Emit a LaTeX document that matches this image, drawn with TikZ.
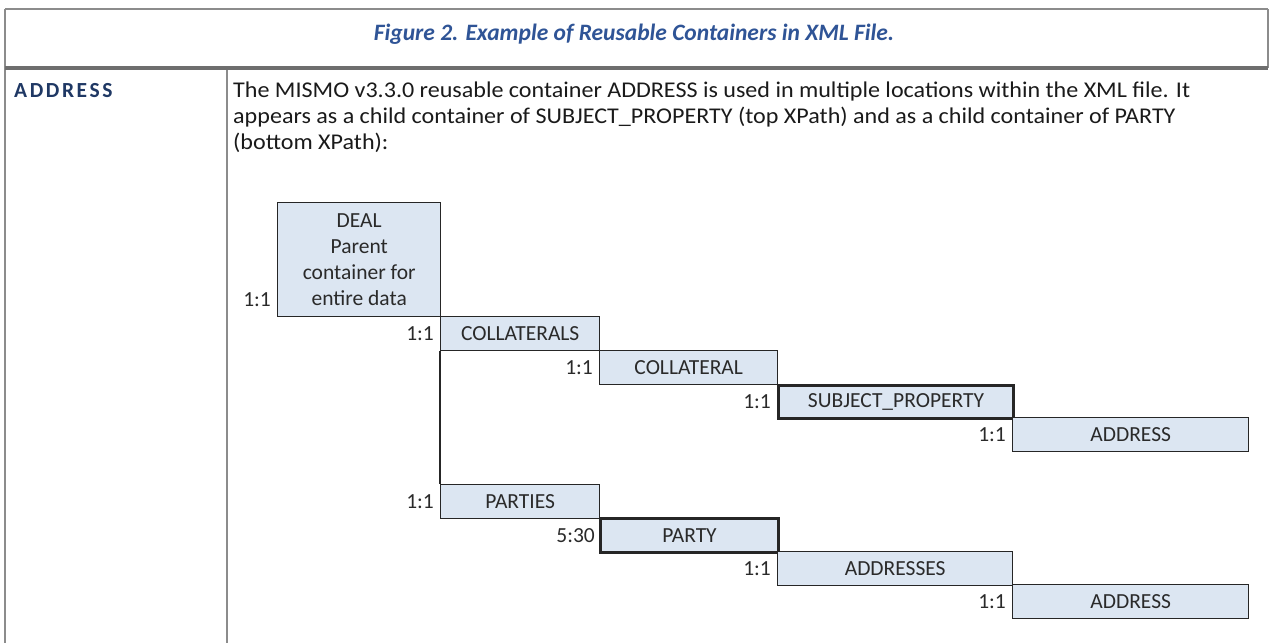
\documentclass[tikz,border=0pt]{standalone}
\usepackage{fontspec}
\setmainfont{Carlito}
\definecolor{rulegray}{HTML}{8C8C8C}
\definecolor{rowgray}{HTML}{6E6E6E}
\definecolor{titleblue}{HTML}{2F5496}
\definecolor{headblue}{HTML}{1F3864}
\definecolor{bodytext}{HTML}{1A1A1A}
\definecolor{boxfill}{HTML}{DCE6F2}
\definecolor{boxline}{HTML}{262626}
\definecolor{dtext}{HTML}{2A2A2A}
\tikzset{
  rulethin/.style={draw=rulegray, line width=2pt},
  rulethick/.style={draw=rowgray, line width=3.5pt},
  cbox/.style={draw=boxline, fill=boxfill, line width=1.4pt, inner sep=0pt,
    minimum height=33.5pt, anchor=north west, text=dtext,
    font=\fontsize{21.5}{26}\selectfont},
  heavy/.style={line width=3pt},
  lbl/.style={inner sep=0pt, text=dtext, font=\fontsize{21.5}{26}\selectfont},
  bodyline/.style={inner sep=0pt, anchor=base west, text=bodytext,
    font=\fontsize{22.5}{26.5}\selectfont\addfontfeature{FakeStretch=1.07}},
  conn/.style={draw=boxline, line width=1.4pt}
}
\begin{document}
\begin{tikzpicture}[x=1pt,y=-1pt]
\useasboundingbox (0,0) rectangle (1270,643);
% table frame
\coordinate (tl) at (5,9);
\coordinate (tr) at (1268,9);
\coordinate (ml) at (5,68);
\coordinate (mr) at (1268,68);
\coordinate (bl) at (5,643);
\coordinate (dt) at (227,69);
\coordinate (db) at (227,643);
\draw[rulethin] (tl) -- (tr);
\draw[rulethin] (tl) -- (bl);
\draw[rulethin] (tr) -- (mr);
\draw[rulethin] (dt) -- (db);
\draw[rulethick] (ml) -- (mr);
% title
\node[inner sep=0pt, anchor=base, text=titleblue, font=\fontsize{23.5}{28}\selectfont\bfseries\itshape] (title) at (634,40) {Figure 2. Example of Reusable Containers in XML File.};
% left heading
\node[inner sep=0pt, anchor=base west, text=headblue, font=\fontsize{21.5}{26}\selectfont\bfseries\addfontfeature{LetterSpace=12}] (head) at (14,97) {ADDRESS};
% body text
\node[bodyline] (b1) at (233,97) {The MISMO v3.3.0 reusable container ADDRESS is used in multiple locations within the XML file. It};
\node[bodyline] (b2) at (233,123) {appears as a child container of SUBJECT\_PROPERTY (top XPath) and as a child container of PARTY};
\node[bodyline] (b3) at (233,149) {(bottom XPath):};
% diagram
\node[cbox, minimum width=163pt, minimum height=114pt, align=center] (deal) at (277,202) {DEAL\\Parent\\container for\\entire data};
\node[cbox, minimum width=159pt] (collaterals) at (440,316) {COLLATERALS};
\node[cbox, minimum width=178pt] (collateral) at (599,350) {COLLATERAL};
\node[cbox, heavy, minimum width=235pt] (subject) at (777,383.5) {SUBJECT\_PROPERTY};
\node[cbox, minimum width=236pt] (address1) at (1012,417) {ADDRESS};
\node[cbox, minimum width=159pt] (parties) at (440,484) {PARTIES};
\node[cbox, heavy, minimum width=178pt] (party) at (599,517) {PARTY};
\node[cbox, minimum width=235pt] (addresses) at (777,551) {ADDRESSES};
\node[cbox, minimum width=236pt] (address2) at (1012,584) {ADDRESS};
\draw[conn] (collaterals.south west) -- (parties.north west);
% cardinality labels
\node[lbl, anchor=base east] (c0) at (271,306) {1:1};
\node[lbl, anchor=east] (c1) at ([xshift=-6pt]collaterals.west) {1:1};
\node[lbl, anchor=east] (c2) at ([xshift=-6pt]collateral.west) {1:1};
\node[lbl, anchor=east] (c3) at ([xshift=-6pt]subject.west) {1:1};
\node[lbl, anchor=east] (c4) at ([xshift=-6pt]address1.west) {1:1};
\node[lbl, anchor=east] (c5) at ([xshift=-6pt]parties.west) {1:1};
\node[lbl, anchor=east] (c6) at ([xshift=-4pt]party.west) {5:30};
\node[lbl, anchor=east] (c7) at ([xshift=-6pt]addresses.west) {1:1};
\node[lbl, anchor=east] (c8) at ([xshift=-6pt]address2.west) {1:1};
\end{tikzpicture}
\end{document}
